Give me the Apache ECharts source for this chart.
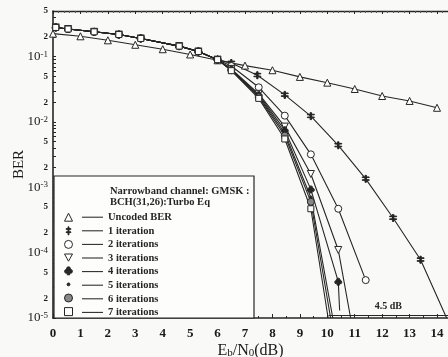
<!DOCTYPE html>
<html>
<head>
<meta charset="utf-8">
<script src="https://cdn.jsdelivr.net/npm/echarts@6/dist/echarts.min.js"></script>
<style>
html, body { margin: 0; padding: 0; background: #f9f9f7; }
#chart { width: 448px; height: 357px; }
</style>
</head>
<body>
<div id="chart"></div>
<script>
// values (Eb/N0 in dB, BER)
const snrUncoded = [0, 1, 2, 3, 4, 5, 6, 7, 8, 9, 10, 11, 12, 13, 14];
const berUncoded = [0.225, 0.205, 0.178, 0.152, 0.13, 0.108, 0.088, 0.073, 0.062, 0.049, 0.04, 0.032, 0.025, 0.021, 0.0165];

// all coded curves start on the same path
const snrLow = [0.1, 0.55, 1.5, 2.4, 3.2, 4.6, 5.3, 6.0];
const berLow = [0.28, 0.265, 0.24, 0.218, 0.19, 0.145, 0.12, 0.09];

const snrIter1 = [6.5, 7.45, 8.45, 9.4, 10.4, 11.4, 12.4, 13.4, 14.35];
const berIter1 = [0.08, 0.052, 0.026, 0.0123, 0.0044, 0.00135, 0.00034, 0.000078, 0.00001];
const snrIter2 = [6.5, 7.5, 8.45, 9.4, 10.4, 11.4];
const berIter2 = [0.072, 0.034, 0.0125, 0.0032, 0.00047, 0.000038];
const snrIter3 = [6.5, 7.5, 8.45, 9.4, 10.4, 10.85];
const berIter3 = [0.065, 0.027, 0.0085, 0.0016, 0.00011, 0.00001];
const snrIter4 = [6.5, 7.5, 8.45, 9.4, 10.4, 10.45];
const berIter4 = [0.064, 0.026, 0.0075, 0.00093, 0.000036, 0.000013];
const snrIter5 = [6.5, 7.5, 8.45, 9.4, 10.2];
const berIter5 = [0.063, 0.025, 0.0068, 0.0007, 0.00001];
const snrIter6 = [6.5, 7.5, 8.45, 9.4, 10.12];
const berIter6 = [0.062, 0.024, 0.0062, 0.0006, 0.00001];
const snrIter7 = [6.5, 7.5, 8.45, 9.4, 10.03];
const berIter7 = [0.061, 0.023, 0.0055, 0.00047, 0.00001];

// 4.5 dB gap marker
const gapSnr = [10.05, 14.4];
const gapBer = 1.12e-5;

const xTicks = [0, 1, 2, 3, 4, 5, 6, 7, 8, 9, 10, 11, 12, 13, 14];
const yLabels = [1e-5, 2e-5, 5e-5, 1e-4, 2e-4, 5e-4, 1e-3, 2e-3, 5e-3, 1e-2, 2e-2, 5e-2, 1e-1, 2e-1, 5e-1];

const SERIF = 'Liberation Serif';
const INK = '#262626';

// y minor ticks 1..9 in each decade
const yTicks = [];
for (let e = -5; e <= -1; e++) {
  for (let m = 1; m <= 9; m++) {
    const v = m * Math.pow(10, e);
    if (v <= 0.5) yTicks.push(v);
  }
}

function circlePath(cx, cy, r) {
  return 'M' + (cx - r) + ' ' + cy + 'a' + r + ' ' + r + ' 0 1 0 ' + (2 * r) + ' 0a' + r + ' ' + r + ' 0 1 0 ' + (-2 * r) + ' 0Z';
}
const daggerSym = 'path://M4.4 0H5.6V10H4.4Z M2 2.3H8V3.2H2Z M2 6.3H8V7.2H2Z';
const downTriSym = 'path://M0 0H10L5 9Z';
const clubSym = 'path://' + circlePath(5, 2.6, 2.4) + circlePath(2.6, 5.8, 2.4) + circlePath(7.4, 5.8, 2.4) + 'M4.3 5.5L5.7 5.5L6.6 10L3.4 10Z';
const dotIcon = 'path://M0 0M10 10' + circlePath(5, 5, 1.8);

const names = ['Uncoded BER', '1 iteration', '2 iterations', '3 iterations', '4 iterations', '5 iterations', '6 iterations', '7 iterations'];

function curve(name, xs, ys, symbol, size, fill) {
  return {
    name: name,
    type: 'line',
    symbol: symbol,
    symbolSize: size,
    showSymbol: true,
    animation: false,
    itemStyle: { color: fill, borderColor: INK, borderWidth: 1 },
    lineStyle: { color: INK, width: 1.1 },
    data: xs.map((x, i) => ys[i] <= 1.5e-5 ? { value: [x, ys[i]], symbol: 'none' } : [x, ys[i]])
  };
}

const series = [
  curve(names[0], snrUncoded, berUncoded, 'triangle', 7, '#fff'),
  curve(names[1], snrLow.concat(snrIter1), berLow.concat(berIter1), daggerSym, 7, INK),
  curve(names[2], snrLow.concat(snrIter2), berLow.concat(berIter2), 'circle', 7, '#fff'),
  curve(names[3], snrLow.concat(snrIter3), berLow.concat(berIter3), downTriSym, 7, '#fff'),
  curve(names[4], snrLow.concat(snrIter4), berLow.concat(berIter4), clubSym, 7, INK),
  curve(names[5], snrLow.concat(snrIter5), berLow.concat(berIter5), 'circle', 3, INK),
  curve(names[6], snrLow.concat(snrIter6), berLow.concat(berIter6), 'circle', 7, '#888'),
  curve(names[7], snrLow.concat(snrIter7), berLow.concat(berIter7), 'rect', 6, '#fff')
];

series[7].markLine = {
  symbol: 'none',
  silent: true,
  animation: false,
  lineStyle: { color: INK, width: 1, type: 'solid' },
  label: { show: true, position: 'middle', formatter: '4.5 dB', fontFamily: SERIF, fontSize: 10, fontWeight: 'bold', color: INK, distance: 3 },
  data: [[{ coord: [gapSnr[0], gapBer] }, { coord: [gapSnr[1], gapBer] }]]
};

const legendIcons = ['triangle', daggerSym, 'circle', downTriSym, clubSym, dotIcon, 'circle', 'rect'];

const chart = echarts.init(document.getElementById('chart'));
chart.setOption({
  backgroundColor: '#f9f9f7',
  animation: false,
  grid: { left: 53, top: 11, right: 0, bottom: 39, outerBoundsMode: 'none' },
  title: {
    text: 'Narrowband channel: GMSK :\nBCH(31,26):Turbo Eq',
    left: 110,
    top: 186,
    padding: 0,
    z: 10,
    textStyle: { fontFamily: SERIF, fontSize: 10.5, fontWeight: 'bold', lineHeight: 11, color: INK }
  },
  graphic: [{
    type: 'rect',
    shape: { x: 54, y: 176, width: 200, height: 142 },
    style: { fill: '#fdfdfc', stroke: INK, lineWidth: 1.2 },
    z: 5
  }],
  legend: [{
    orient: 'vertical',
    left: 64,
    top: 212.7,
    padding: 0,
    itemWidth: 8,
    itemHeight: 8,
    itemGap: 4.6,
    selectedMode: false,
    z: 10,
    formatter: () => '',
    itemStyle: { borderWidth: 1 },
    textStyle: { fontSize: 8, lineHeight: 8 },
    data: names.map((n, i) => ({ name: n, icon: legendIcons[i] }))
  }, {
    orient: 'vertical',
    left: 82,
    top: 211.7,
    padding: 0,
    itemWidth: 21,
    itemHeight: 10,
    itemGap: 2.6,
    selectedMode: false,
    z: 10,
    icon: 'path://M0 0H40V2H0Z',
    itemStyle: { color: INK, borderWidth: 0 },
    textStyle: { fontFamily: SERIF, fontSize: 10.5, fontWeight: 'bold', lineHeight: 10, color: INK },
    data: names
  }],
  xAxis: [{
    type: 'value',
    min: 0,
    max: 14.4,
    interval: 1,
    axisLine: { lineStyle: { color: INK, width: 1.6 } },
    axisTick: { inside: true, length: 4, lineStyle: { color: INK } },
    minorTick: { show: true, splitNumber: 2, length: 2, lineStyle: { color: INK } },
    splitLine: { show: false },
    axisLabel: {
      customValues: xTicks,
      margin: 9,
      fontFamily: SERIF,
      fontSize: 13,
      fontWeight: 'bold',
      color: '#1a1a1a'
    },
    name: '{e|E}{s|b}{e|/N}{s|0}{e|(dB)}',
    nameLocation: 'middle',
    nameGap: 25,
    nameMoveOverlap: false,
    nameTextStyle: {
      rich: {
        e: { fontFamily: SERIF, fontSize: 16, color: '#1a1a1a', lineHeight: 16 },
        s: { fontFamily: SERIF, fontSize: 11, color: '#1a1a1a', lineHeight: 10, verticalAlign: 'bottom' }
      }
    }
  }, {
    type: 'value',
    position: 'top',
    min: 0,
    max: 14.4,
    interval: 1,
    axisLine: { show: true, lineStyle: { color: INK, width: 1.3 } },
    axisTick: { show: true, inside: true, length: 3, lineStyle: { color: INK } },
    minorTick: { show: true, splitNumber: 5, length: 2, lineStyle: { color: '#555' } },
    axisLabel: { show: false },
    splitLine: { show: false }
  }],
  yAxis: {
    type: 'log',
    logBase: 10,
    min: 1e-5,
    max: 0.5,
    axisLine: { show: true, lineStyle: { color: INK, width: 1.6 } },
    axisTick: { show: true, inside: true, length: 3, customValues: yTicks, lineStyle: { color: INK } },
    splitLine: { show: false },
    axisLabel: {
      customValues: yLabels,
      margin: 5,
      formatter: function (v) {
        const e = Math.floor(Math.log10(v) + 1e-9);
        const m = Math.round(v / Math.pow(10, e));
        if (m === 1) return '{b|10}{s|' + e + '}';
        return '{m|' + m + '}';
      },
      rich: {
        b: { fontFamily: SERIF, fontSize: 13, color: '#1a1a1a', lineHeight: 14 },
        s: { fontFamily: SERIF, fontSize: 9, color: '#1a1a1a', lineHeight: 9, verticalAlign: 'top' },
        m: { fontFamily: SERIF, fontSize: 9, fontWeight: 'bold', color: '#1a1a1a' }
      }
    },
    name: 'BER',
    nameLocation: 'middle',
    nameGap: 26,
    nameMoveOverlap: false,
    nameTextStyle: { fontFamily: SERIF, fontSize: 15, color: '#1a1a1a' }
  },
  series: series
});
</script>
</body>
</html>
